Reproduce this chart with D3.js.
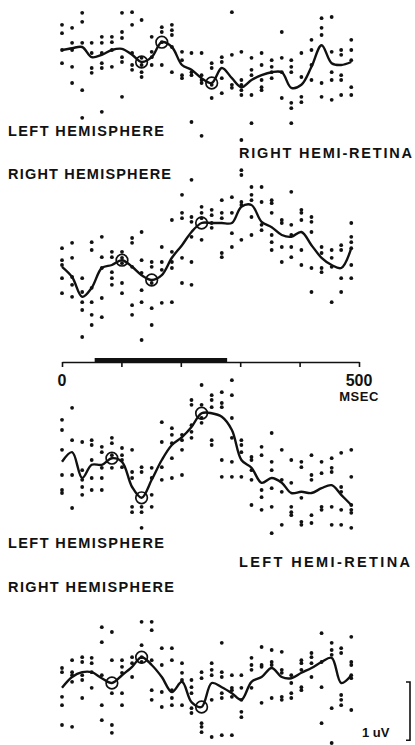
<!DOCTYPE html>
<html>
<head>
<meta charset="utf-8">
<script src="https://cdn.jsdelivr.net/npm/d3@7"></script>
<style>
  html, body { margin: 0; padding: 0; background: #fff; }
  svg { display: block; }
  text { font-family: "Liberation Sans", Arial, sans-serif; font-weight: bold; fill: #111; }
</style>
</head>
<body>
<svg id="chart" width="415" height="745"></svg>
<script>
// ---- DATA ----
const times = [0,17,34,50,67,84,101,118,134,151,168,185,202,218,235,252,269,286,302,319,336,353,370,386,403,420,437,454,470,487];
const tickValues = [0,100,200,300,400,500];
const tickLabels = ["0","500"];
const axisUnit = "MSEC";
const stimulusBar = [55, 278];
const scaleBarValue = 1;
const scaleBarLabel = "1 uV";

// Panel 1: right hemi-retina, left hemisphere (uV)
const p1Mean = [0.25,0.28,0.30,0.13,0.17,0.25,0.27,0.17,0.05,0.13,0.38,0.30,0.00,-0.08,-0.22,-0.30,-0.05,-0.22,-0.37,-0.25,-0.17,-0.12,-0.12,-0.38,-0.33,-0.03,0.33,0.03,0.00,0.05];
const p1Dots = [
 [0.67,0.53,0.25,0.03],[0.62,0.37,0.25,-0.03,-0.30],[0.87,0.72,0.37,-0.42,-0.88],[0.37,0.20,-0.05,-0.13],
 [0.47,0.37,0.20,0.03,-0.05,-0.78],[0.47,0.38,0.25,-0.03],[0.87,0.55,0.45,0.13,0.05,-0.53],[0.88,0.67,0.20,0.00,-0.08],
 [0.75,0.12,0.00,-0.12,-0.20],[0.47,0.22,0.13,0.00],[0.63,0.55,0.38,0.00],[0.67,0.58,0.50,0.30,-0.12],
 [0.22,0.08,-0.17,-0.22],[0.20,-0.12,-0.17,-0.95],[0.20,-0.17,-0.25,-0.30,-1.18],[0.03,-0.05,-0.33,-0.55],
 [0.13,0.05,-0.22,-0.47],[0.88,0.17,-0.33,-0.38],[0.22,-0.25,-0.33,-0.42,-0.50,-1.25],[0.12,-0.08,-0.17,-0.50,-0.97],
 [0.20,0.00,-0.25,-0.37,-0.42],[0.08,-0.03,-0.12,-0.22],[0.55,0.12,-0.12,-0.55],[0.08,-0.03,-0.12,-0.63,-0.72,-0.97],
 [0.20,-0.20,-0.53,-0.62],[0.42,0.25,0.00,-0.25],[0.78,0.62,0.50,-0.30,-0.53],[0.80,0.22,-0.12,-0.25,-0.58],
 [0.25,0.17,-0.17,-0.25,-0.50],[0.42,0.25,0.08,-0.37,-0.50]
];
const p1Peaks = [8,10,15];

// Panel 2: right hemi-retina, right hemisphere
const p2Mean = [-0.28,-0.45,-0.78,-0.63,-0.30,-0.25,-0.17,-0.28,-0.42,-0.50,-0.42,-0.13,0.08,0.30,0.45,0.45,0.45,0.45,0.72,0.75,0.47,0.38,0.25,0.22,0.30,0.08,-0.13,-0.25,-0.30,0.03];
const p2Dots = [
 [0.03,-0.17,-0.25,-0.47,-0.72],[0.12,-0.13,-0.45,-0.58,-0.78],[-0.47,-0.70,-0.87,-1.00,-1.45],[0.13,0.00,-0.63,-0.87,-1.08,-1.25],
 [0.22,-0.12,-0.30,-0.80,-1.12],[-0.03,-0.12,-0.37,-0.47,-0.58],[-0.03,-0.13,-0.22,-0.55,-0.72],[0.20,0.12,-0.28,-0.92,-1.08],
 [0.30,-0.17,-0.38,-0.67,-0.87,-1.50],[-0.20,-0.28,-0.55,-0.97,-1.25],[0.05,-0.20,-0.33,-0.88],[0.50,-0.03,-0.20,-0.30,-0.87],
 [0.92,0.62,0.53,-0.13,-0.55],[1.17,0.55,0.47,0.22,-0.20,-0.58],[0.72,0.62,0.53,0.17],[0.67,0.58,0.45,0.37],
 [0.83,0.62,0.53,-0.05,-0.12],[0.88,0.62,0.28,0.05],[1.33,1.25,0.80,0.75,0.17],[1.05,0.92,0.83,0.55,0.25],
 [1.05,0.80,0.42,0.33],[0.83,0.78,0.62,0.25,0.13,0.00],[0.50,0.45,0.05,-0.20],[0.97,0.42,0.25,0.05,-0.12],
 [0.67,0.62,0.50,0.00,-0.25],[0.55,0.47,0.30,-0.30,-0.70],[0.05,-0.05,-0.30,-0.37],[0.00,-0.13,-0.28,-0.87],
 [0.08,0.00,-0.47,-0.70],[0.45,0.22,0.13,0.03,-0.25,-0.47]
];
const p2Peaks = [6,9,14];

// Panel 3: left hemi-retina, left hemisphere
const p3Mean = [-0.03,0.13,-0.30,-0.08,-0.08,0.03,-0.03,-0.45,-0.63,-0.33,0.00,0.25,0.38,0.55,0.78,0.78,0.72,0.50,0.00,-0.13,-0.38,-0.30,-0.38,-0.55,-0.53,-0.55,-0.47,-0.42,-0.58,-0.75];
const p3Dots = [
 [0.67,0.50,0.17,-0.25,-0.50,-0.55],[0.87,0.33,-0.25,-0.80],[0.30,-0.17,-0.33,-0.45,-0.58],[0.33,0.25,0.00,-0.30,-0.50],
 [0.22,0.13,-0.13,-0.30,-0.50],[0.37,0.28,0.08,-0.13],[0.20,0.08,0.00,-0.12],[0.17,-0.20,-0.30,-0.78,-0.87],
 [-0.12,-0.20,-0.78,-0.87,-1.13],[-0.13,-0.30,-0.58,-0.78],[0.63,0.30,-0.12,-0.33],[0.53,0.42,0.28,0.03,-0.30],
 [0.42,0.33,0.17,-0.25],[1.00,0.92,0.58,0.47,0.37],[1.25,0.92,0.70,0.62],[1.08,1.00,0.88,0.33,0.25],
 [1.13,0.95,0.88,0.00,-0.28],[1.33,1.08,0.70,0.37,-0.03,-0.28],[0.33,0.25,0.13,-0.28],[0.05,0.00,-0.17,-0.33,-0.75],
 [0.22,0.08,-0.50,-0.62,-0.83],[0.45,-0.03,-0.17,-0.47,-0.78,-1.22],[0.17,-0.33,-0.53,-1.08],[0.00,-0.38,-0.78,-0.87,-0.92],
 [-0.03,-0.12,-0.63,-1.03,-1.08],[0.08,-0.25,-0.33,-0.92,-1.05],[-0.03,-0.22,-0.78,-0.83],[0.03,-0.13,-0.20,-0.78,-1.08],
 [0.12,-0.45,-0.53,-0.83,-1.08],[0.17,-0.28,-0.75,-0.83,-0.88,-1.13]
];
const p3Peaks = [5,8,14];

// Panel 4: left hemi-retina, right hemisphere
const p4Mean = [-0.13,0.05,0.13,0.13,0.03,-0.05,0.08,0.22,0.38,0.25,0.05,-0.20,-0.03,-0.37,-0.45,-0.05,-0.12,-0.22,-0.33,-0.03,0.05,0.20,0.05,0.03,0.12,0.20,0.30,0.37,-0.05,0.08];
const p4Dots = [
 [0.20,0.13,-0.28,-0.42,-0.75],[0.33,0.13,0.08,-0.03,-0.78],[0.38,0.30,0.08,0.00,-0.30],[0.37,0.28,0.13,-0.13],
 [0.88,0.63,0.08,-0.42,-0.67],[0.80,0.33,-0.22,-0.75,-0.88],[0.33,0.22,0.12,-0.22,-0.42],[0.38,0.28,0.05],
 [0.97,0.58,0.38,0.30],[0.97,0.83,0.33,-0.17,-0.33],[0.53,0.25,-0.20,-0.45],[0.53,0.33,-0.17,-0.30,-0.42],
 [0.28,0.12,0.00,-0.42],[0.00,-0.12,-0.22,-0.47,-0.55],[0.13,0.03,-0.72,-0.78,-0.87],[0.28,0.17,0.08,-0.33,-0.95],
 [0.62,0.13,0.05,-0.22,-0.30,-0.92],[0.08,-0.13,-0.17,-0.28,-0.92],[0.08,-0.13,-0.33,-0.53,-0.62],[0.37,0.25,0.17,-0.13],
 [0.55,0.25,0.22,-0.38],[0.50,0.30,0.25,-0.30],[0.47,0.17,0.12,-0.28,-0.33],[0.08,-0.05,-0.22,-0.30],
 [0.33,0.28,0.17,-0.12,-0.17],[0.45,0.38,0.28,0.05],[0.78,0.30,-0.12,-0.72],[0.62,0.50,0.42,-0.47,-1.05],
 [0.53,0.45,-0.25,-0.33,-0.42],[0.72,0.30,0.25,0.08,0.03,-0.50]
];
const p4Peaks = [5,8,14];

const panelLabels = [
  {text: "LEFT HEMISPHERE", side: "left"},
  {text: "RIGHT HEMI-RETINA", side: "right"},
  {text: "RIGHT HEMISPHERE", side: "left"},
  {text: "LEFT HEMISPHERE", side: "left"},
  {text: "LEFT HEMI-RETINA", side: "right"},
  {text: "RIGHT HEMISPHERE", side: "left"}
];

// ---- DRAW ----
const svg = d3.select("#chart");
const x = d3.scaleLinear().domain([0, 500]).range([62, 359]);
const pxPerUV = 60;

const panels = [
  {mean: p1Mean, dots: p1Dots, peaks: p1Peaks, y0: 65},
  {mean: p2Mean, dots: p2Dots, peaks: p2Peaks, y0: 250},
  {mean: p3Mean, dots: p3Dots, peaks: p3Peaks, y0: 460},
  {mean: p4Mean, dots: p4Dots, peaks: p4Peaks, y0: 680}
];

panels.forEach(p => {
  const y = d3.scaleLinear().domain([-1, 1]).range([p.y0 + pxPerUV, p.y0 - pxPerUV]);
  const g = svg.append("g");
  const pts = [];
  p.dots.forEach((col, i) => col.forEach(v => pts.push({t: times[i], v})));
  g.selectAll("circle.dot").data(pts).join("circle")
    .attr("class", "dot")
    .attr("cx", d => x(d.t)).attr("cy", d => y(d.v)).attr("r", 1.9)
    .attr("fill", "#111");
  const line = d3.line().x((d, i) => x(times[i])).y(d => y(d)).curve(d3.curveCatmullRom.alpha(0.5));
  g.append("path").datum(p.mean).attr("d", line)
    .attr("fill", "none").attr("stroke", "#111").attr("stroke-width", 2.4)
    .attr("stroke-linejoin", "round");
  g.selectAll("circle.peak").data(p.peaks).join("circle")
    .attr("class", "peak")
    .attr("cx", i => x(times[i])).attr("cy", i => y(p.mean[i])).attr("r", 5.8)
    .attr("fill", "none").attr("stroke", "#111").attr("stroke-width", 1.7);
});

// Time axis
const axisY = 362;
const axis = d3.axisBottom(x).tickValues(tickValues).tickSize(5).tickSizeOuter(0).tickFormat("");
const ag = svg.append("g").attr("transform", `translate(0,${axisY})`).call(axis);
ag.select(".domain").attr("stroke", "#111").attr("stroke-width", 1.6);
ag.selectAll(".tick line").attr("stroke", "#111").attr("stroke-width", 1.6);
svg.append("rect")
  .attr("x", x(stimulusBar[0])).attr("width", x(stimulusBar[1]) - x(stimulusBar[0]))
  .attr("y", axisY - 4).attr("height", 4).attr("fill", "#111");
svg.append("text").attr("x", x(0)).attr("y", 386).attr("text-anchor", "middle")
  .attr("font-size", 16).text(tickLabels[0]);
svg.append("text").attr("x", x(500)).attr("y", 386).attr("text-anchor", "middle")
  .attr("font-size", 16).text(tickLabels[1]);
svg.append("text").attr("x", x(500)).attr("y", 401).attr("text-anchor", "middle")
  .attr("font-size", 13).attr("letter-spacing", 0.5).text(axisUnit);

// Panel labels
const labelPos = [
  {x: 8, y: 136, w: 156}, {x: 239, y: 158, w: 173}, {x: 8, y: 179, w: 163},
  {x: 8, y: 548, w: 156}, {x: 239, y: 567, w: 171}, {x: 8, y: 592, w: 166}
];
panelLabels.forEach((l, i) => {
  svg.append("text").attr("x", labelPos[i].x).attr("y", labelPos[i].y)
    .attr("font-size", 14.5)
    .attr("textLength", labelPos[i].w).attr("lengthAdjust", "spacing")
    .text(l.text);
});

// Scale bar
const sbTop = 682;
const sbBot = sbTop + scaleBarValue * pxPerUV * 0.97;
svg.append("path")
  .attr("d", `M406,${sbTop} H410 V${sbBot} H406`)
  .attr("fill", "none").attr("stroke", "#111").attr("stroke-width", 1.6);
svg.append("text").attr("x", 362).attr("y", 737).attr("font-size", 13).text(scaleBarLabel);
</script>
</body>
</html>
